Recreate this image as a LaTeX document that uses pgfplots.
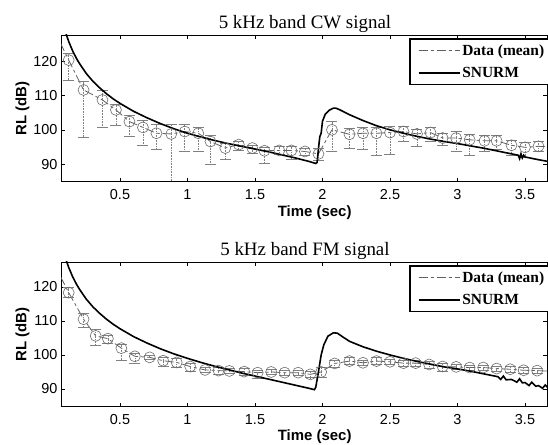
\documentclass[border=0pt]{standalone}
\usepackage{pgfplots}
\usepackage{pgfplotstable}
\pgfplotsset{compat=1.18}
\usepackage{fontspec}
\setmainfont{Liberation Serif}
\setsansfont{Liberation Sans}

\pgfplotstableread{
t v ep em
0.12 120.3 2.0 5.8
0.23 111.6 2.4 13.9
0.37 108.7 2.9 8.1
0.47 105.8 1.5 4.4
0.57 102.4 1.8 4.4
0.67 100.7 2.0 5.1
0.77 99.0 2.7 4.8
0.88 98.8 2.7 20.0
0.98 99.5 2.0 5.8
1.08 99.0 1.7 5.3
1.17 96.6 1.7 6.7
1.28 94.7 1.4 3.2
1.38 95.7 1.1 1.7
1.48 94.7 0.9 1.5
1.57 93.9 1.0 3.6
1.68 94.0 1.2 1.2
1.77 94.0 1.2 2.7
1.87 93.7 1.0 1.0
1.97 93.0 1.5 2.0
2.07 100.0 2.4 6.3
2.20 98.7 1.8 4.0
2.30 99.0 1.8 4.8
2.40 99.0 1.8 6.5
2.50 99.2 1.8 6.2
2.60 99.5 1.5 2.9
2.70 98.8 1.3 3.6
2.80 99.2 1.5 2.5
2.89 97.6 1.5 2.0
2.99 97.6 1.9 3.9
3.09 97.1 1.5 4.5
3.20 96.8 1.5 3.0
3.29 96.8 1.5 2.5
3.40 95.5 1.5 3.0
3.50 94.9 1.5 3.0
3.60 95.2 1.5 1.5
}\cwdata

\pgfplotstableread{
t v
0.00 130.0
0.12 120.3
0.23 111.6
0.37 108.7
0.47 105.8
0.57 102.4
0.67 100.7
0.77 99.0
0.88 98.8
0.98 99.5
1.08 99.0
1.17 96.6
1.28 94.7
1.38 95.7
1.48 94.7
1.57 93.9
1.68 94.0
1.77 94.0
1.87 93.7
1.97 93.0
2.07 100.0
2.20 98.7
2.30 99.0
2.40 99.0
2.50 99.2
2.60 99.5
2.70 98.8
2.80 99.2
2.89 97.6
2.99 97.6
3.09 97.1
3.20 96.8
3.29 96.8
3.40 95.5
3.50 94.9
3.60 95.2
3.70 95.0
}\cwline

\pgfplotstableread{
t v
0.08 131.0
0.09 129.5
0.10 128.0
0.12 125.7
0.15 122.9
0.18 120.6
0.20 119.3
0.25 116.4
0.30 114.1
0.35 112.2
0.40 110.5
0.45 109.0
0.50 107.7
0.60 105.4
0.70 103.5
0.80 101.8
0.90 100.3
1.00 99.0
1.10 97.9
1.20 96.9
1.30 96.0
1.40 95.2
1.50 94.4
1.60 93.6
1.70 92.7
1.80 91.8
1.90 90.8
1.95 90.2
1.96 90.5
1.97 94.5
1.98 98.0
1.99 99.0
2.00 102.5
2.02 104.5
2.05 105.7
2.08 106.3
2.10 106.3
2.13 105.8
2.16 105.2
2.20 104.4
2.30 102.7
2.40 101.2
2.50 100.0
2.60 99.0
2.70 98.1
2.80 97.3
2.90 96.6
3.00 96.0
3.10 95.3
3.20 94.6
3.30 93.8
3.40 93.0
3.45 92.6
3.46 91.6
3.47 93.0
3.48 91.8
3.49 92.6
3.50 92.1
3.60 91.3
3.67 90.8
}\cwmodel

\pgfplotstableread{
t v ep em
0.12 118.3 1.5 1.5
0.23 110.5 1.8 2.5
0.32 105.6 1.9 2.9
0.41 104.8 1.0 1.5
0.51 102.0 1.0 3.5
0.61 99.6 1.0 2.0
0.72 99.3 0.5 0.5
0.82 98.3 1.0 1.5
0.92 97.8 1.2 1.5
1.02 96.6 1.0 1.5
1.13 95.6 0.8 0.8
1.23 95.4 1.0 1.2
1.31 95.3 0.8 0.8
1.42 95.1 1.0 1.2
1.52 94.8 0.8 1.7
1.62 95.0 0.8 0.8
1.72 94.8 0.8 0.8
1.82 94.8 0.8 0.8
1.91 94.3 0.8 1.0
1.99 95.0 1.5 1.5
2.09 97.5 1.0 1.0
2.20 98.2 1.0 1.0
2.30 97.7 0.8 0.8
2.40 98.2 1.0 1.0
2.50 98.0 0.8 0.8
2.60 97.6 0.8 0.8
2.69 97.6 0.8 0.8
2.79 97.2 0.8 1.0
2.89 96.6 0.8 1.5
2.99 96.5 0.8 0.8
3.09 96.3 0.8 0.8
3.19 96.3 0.8 0.8
3.29 96.0 0.8 0.8
3.39 95.8 0.8 0.8
3.49 95.5 0.8 0.8
3.59 95.4 0.8 0.8
}\fmdata

\pgfplotstableread{
t v
0.00 127.7
0.12 118.3
0.23 110.5
0.32 105.6
0.41 104.8
0.51 102.0
0.61 99.6
0.72 99.3
0.82 98.3
0.92 97.8
1.02 96.6
1.13 95.6
1.23 95.4
1.31 95.3
1.42 95.1
1.52 94.8
1.62 95.0
1.72 94.8
1.82 94.8
1.91 94.3
1.99 95.0
2.09 97.5
2.20 98.2
2.30 97.7
2.40 98.2
2.50 98.0
2.60 97.6
2.69 97.6
2.79 97.2
2.89 96.6
2.99 96.5
3.09 96.3
3.19 96.3
3.29 96.0
3.39 95.8
3.49 95.5
3.59 95.4
3.70 95.2
}\fmline

\pgfplotstableread{
t v
0.08 131.0
0.09 129.5
0.10 128.0
0.12 125.7
0.15 122.9
0.18 120.6
0.20 119.3
0.25 116.4
0.30 114.1
0.35 112.2
0.40 110.5
0.45 109.0
0.50 107.7
0.60 105.4
0.70 103.5
0.80 101.8
0.90 100.3
1.00 99.0
1.10 97.8
1.20 96.7
1.30 95.7
1.40 94.7
1.50 93.8
1.60 92.9
1.70 92.0
1.80 91.1
1.90 90.2
1.94 89.8
1.95 90.5
1.97 95.0
1.99 100.0
2.01 103.0
2.04 105.5
2.08 106.5
2.11 106.4
2.15 105.3
2.20 104.0
2.30 102.4
2.40 101.1
2.50 100.0
2.60 99.0
2.70 98.1
2.80 97.3
2.90 96.5
3.00 95.9
3.10 95.2
3.20 94.4
3.30 93.6
3.32 92.8
3.34 93.8
3.36 92.7
3.40 92.8
3.44 92.0
3.46 93.0
3.48 91.8
3.50 91.9
3.53 91.0
3.55 92.0
3.58 90.8
3.60 91.0
3.63 90.2
3.65 91.2
3.67 90.4
}\fmmodel

\pgfplotsset{
  myax/.style={
    scale only axis,
    width=486bp,
    xmin=0.063, xmax=3.663,
    xtick={0.5,1,1.5,2,2.5,3,3.5},
    xticklabels={0.5,1,1.5,2,2.5,3,3.5},
    ytick={90,100,110,120},
    tick align=inside,
    major tick length=4bp,
    axis line style={line width=0.9bp},
    every tick/.style={black, line width=0.6bp},
    tick label style={font=\sffamily\fontsize{14.5}{16}\selectfont},
    xticklabel style={yshift=-4bp},
    /pgf/number format/assume math mode=true,
    xlabel={Time (sec)},
    ylabel={RL (dB)},
    label style={font=\sffamily\bfseries\fontsize{15}{17}\selectfont},
    xlabel style={at={(axis description cs:0.522,0)}, anchor=base, yshift=-35bp},
    ylabel style={yshift=-3bp},
    title style={font=\fontsize{19}{21}\selectfont, yshift=-7bp, xshift=1bp},
    legend style={at={(1,1)}, anchor=north east, xshift=8bp, yshift=-3bp,
      draw=black, line width=1.6bp, font=\bfseries\fontsize{15.5}{17}\selectfont,
      inner xsep=8bp, inner ysep=4bp, row sep=6bp, cells={anchor=west}},
    legend cell align=left,
    clip=true,
  },
  dataline/.style={gray!75!black, line width=0.8bp, dash pattern=on 9bp off 3bp on 3bp off 3bp},
  datamarks/.style={forget plot, only marks, mark=o, mark size=5.5bp, gray!85!black, mark options={line width=0.6bp},
    error bars/.cd, y dir=both, y explicit,
    error bar style={gray, line width=0.6bp, densely dotted},
    error mark options={rotate=90, mark size=5.5bp, gray, solid, line width=0.6bp}},
  modelline/.style={black, line width=1.6bp},
  legend image code/.code={\draw[#1] (0bp,0bp) -- (33bp,0bp); \path (0bp,0bp) -- (41bp,0bp);},
}

\begin{document}
\begin{tikzpicture}
\useasboundingbox (0,0) rectangle (548bp,445bp);
\begin{axis}[myax, at={(61bp,263.3bp)}, anchor=south west, height=146.7bp,
  ymin=84.9, ymax=127.6, title={5 kHz band CW signal}]
\addplot[dataline, forget plot] table[x=t,y=v] {\cwline};
\addplot[datamarks] table[x=t,y=v,y error plus=ep,y error minus=em] {\cwdata};
\addlegendimage{dataline}
\addlegendentry{Data (mean)}
\addplot[modelline] table[x=t,y=v] {\cwmodel};
\addlegendentry{SNURM}
\end{axis}
\begin{axis}[myax, at={(61bp,38.3bp)}, anchor=south west, height=144.7bp,
  ymin=84.8, ymax=127.3, title={5 kHz band FM signal},
  xlabel style={yshift=1.5bp}]
\addplot[dataline, forget plot] table[x=t,y=v] {\fmline};
\addplot[datamarks] table[x=t,y=v,y error plus=ep,y error minus=em] {\fmdata};
\addlegendimage{dataline}
\addlegendentry{Data (mean)}
\addplot[modelline] table[x=t,y=v] {\fmmodel};
\addlegendentry{SNURM}
\end{axis}
\end{tikzpicture}
\end{document}
